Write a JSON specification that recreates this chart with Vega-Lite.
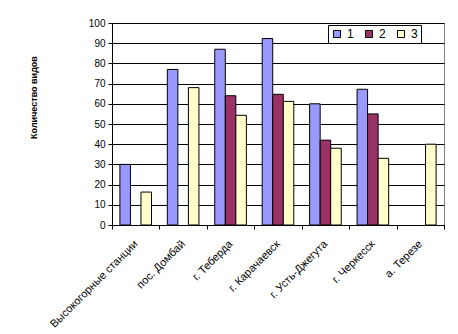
{
  "$schema": "https://vega.github.io/schema/vega-lite/v6.json",
  "width": 332,
  "height": 202,
  "autosize": {"type": "none"},
  "padding": {"left": 112, "top": 23, "right": 14, "bottom": 109},
  "background": "white",
  "config": {
    "view": {"stroke": "#808080", "strokeWidth": 1},
    "font": "Liberation Sans"
  },
  "data": {
    "values": [
      {"cat": "Высокогорные станции", "series": "1", "value": 30},
      {"cat": "Высокогорные станции", "series": "3", "value": 16.3},
      {"cat": "пос. Домбай", "series": "1", "value": 77},
      {"cat": "пос. Домбай", "series": "3", "value": 68},
      {"cat": "г. Теберда", "series": "1", "value": 87},
      {"cat": "г. Теберда", "series": "2", "value": 64},
      {"cat": "г. Теберда", "series": "3", "value": 54.3},
      {"cat": "г. Карачаевск", "series": "1", "value": 92.3},
      {"cat": "г. Карачаевск", "series": "2", "value": 64.7},
      {"cat": "г. Карачаевск", "series": "3", "value": 61.2},
      {"cat": "г. Усть-Джегута", "series": "1", "value": 60},
      {"cat": "г. Усть-Джегута", "series": "2", "value": 42},
      {"cat": "г. Усть-Джегута", "series": "3", "value": 38},
      {"cat": "г. Черкесск", "series": "1", "value": 67.2},
      {"cat": "г. Черкесск", "series": "2", "value": 55},
      {"cat": "г. Черкесск", "series": "3", "value": 33},
      {"cat": "а. Терезе", "series": "3", "value": 40}
    ]
  },
  "mark": {"type": "bar", "stroke": "black", "strokeWidth": 1, "cornerRadius": 0},
  "encoding": {
    "x": {
      "field": "cat",
      "type": "nominal",
      "sort": ["Высокогорные станции", "пос. Домбай", "г. Теберда", "г. Карачаевск", "г. Усть-Джегута", "г. Черкесск", "а. Терезе"],
      "scale": {"paddingInner": 0, "paddingOuter": 0},
      "axis": {
        "title": null,
        "labelAngle": -45,
        "labelAlign": "right",
        "labelBaseline": "middle",
        "labelFontSize": 11,
        "labelColor": "black",
        "labelPadding": 13,
        "labelDx": -3,
        "tickBand": "extent",
        "tickColor": "black",
        "tickSize": 4,
        "domainColor": "black",
        "labelOverlap": false
      }
    },
    "xOffset": {
      "field": "series",
      "type": "nominal",
      "scale": {"domain": ["1", "2", "3"], "paddingInner": 0, "paddingOuter": 0.75}
    },
    "y": {
      "field": "value",
      "type": "quantitative",
      "scale": {"domain": [0, 100]},
      "axis": {
        "title": "Количество видов",
        "titleFontSize": 9,
        "titleFontWeight": "bold",
        "titleColor": "black",
        "titleAngle": -90,
        "titleAlign": "center",
        "titleBaseline": "middle",
        "titleX": -79,
        "titleY": 74,
        "values": [0, 10, 20, 30, 40, 50, 60, 70, 80, 90, 100],
        "labelFontSize": 10,
        "labelColor": "black",
        "labelPadding": 3,
        "tickColor": "black",
        "tickSize": 4,
        "domainColor": "black",
        "grid": true,
        "gridColor": "black",
        "gridWidth": 1
      }
    },
    "color": {
      "field": "series",
      "type": "nominal",
      "scale": {"domain": ["1", "2", "3"], "range": ["#9999FF", "#993366", "#FFFFCC"]},
      "legend": {
        "title": null,
        "orient": "none",
        "legendX": 216,
        "legendY": 2,
        "direction": "horizontal",
        "symbolType": "square",
        "symbolSize": 50,
        "symbolStrokeColor": "black",
        "symbolStrokeWidth": 1,
        "labelFontSize": 12,
        "labelColor": "black",
        "columnPadding": 9,
        "padding": 3,
        "strokeColor": "black",
        "fillColor": "white"
      }
    }
  }
}
